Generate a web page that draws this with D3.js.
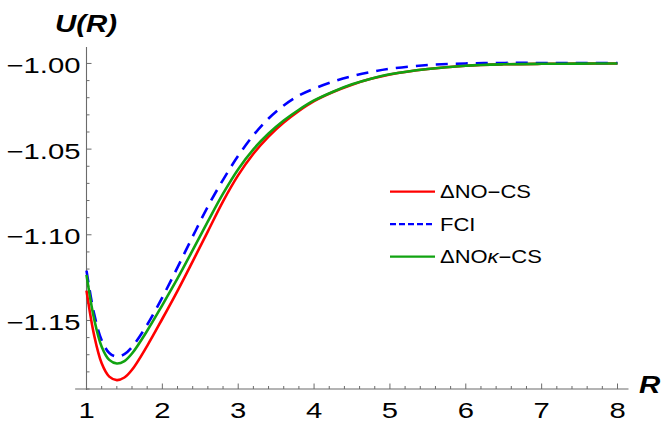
<!DOCTYPE html>
<html>
<head>
<meta charset="utf-8">
<script src="https://cdn.jsdelivr.net/npm/d3@7"></script>
<style>
  html, body { margin: 0; padding: 0; background: #fff; }
  svg { display: block; }
  text { font-family: "Liberation Sans", Arial, Helvetica, sans-serif; fill: #000; }
</style>
</head>
<body>
<svg id="chart" width="662" height="423"></svg>
<script>
// ---- data ----
const R = [1.0,1.1,1.2,1.3,1.4,1.5,1.6,1.8,2.0,2.2,2.4,2.6,2.8,3.0,3.2,3.4,3.6,3.8,4.0,4.25,4.5,4.75,5.0,5.5,6.0,6.5,7.0,7.5,8.0];
const noCS = [-1.1326,-1.1585,-1.1750,-1.1828,-1.1848,-1.1833,-1.1788,-1.1648,-1.1490,-1.1327,-1.1155,-1.0980,-1.0805,-1.0652,-1.0527,-1.0427,-1.0345,-1.0277,-1.0220,-1.0167,-1.0124,-1.0090,-1.0064,-1.0032,-1.0013,-1.0005,-1.0002,-1.0001,-1.0000];
const fci = [-1.1209,-1.1460,-1.1615,-1.1690,-1.1711,-1.1697,-1.1655,-1.1525,-1.1365,-1.1190,-1.1010,-1.0835,-1.0679,-1.0539,-1.0419,-1.0321,-1.0245,-1.0187,-1.0147,-1.0106,-1.0074,-1.0050,-1.0031,-1.0009,-1.0000,-0.9997,-0.9997,-0.9997,-0.9997];
const noKCS = [-1.1234,-1.1490,-1.1653,-1.1730,-1.1751,-1.1737,-1.1693,-1.1560,-1.1410,-1.1255,-1.1090,-1.0922,-1.0760,-1.0617,-1.0501,-1.0409,-1.0333,-1.0270,-1.0216,-1.0165,-1.0122,-1.0089,-1.0063,-1.0032,-1.0013,-1.0005,-1.0002,-1.0001,-1.0000];
const xTicks = [1,2,3,4,5,6,7,8];
const yTicks = [-1.15,-1.10,-1.05,-1.00];
const seriesNames = ["\u0394NO\u2212CS", "FCI", "\u0394NO\u03BA\u2212CS"];

// ---- layout ----
const svg = d3.select("#chart");
const x = d3.scaleLinear().domain([1, 8]).range([86.5, 617.5]);
const y = d3.scaleLinear().domain([-1.19, -0.9904]).range([389, 47]);
const axisColor = "#6b6b6b";
const sx = 1.33; // horizontal stretch of glyphs seen in the reference

// axes lines
svg.append("line").attr("x1", x(0.85)).attr("x2", x(8.145)).attr("y1", y(-1.19)).attr("y2", y(-1.19))
  .attr("stroke", axisColor).attr("stroke-width", 1.1);
svg.append("line").attr("x1", x(1)).attr("x2", x(1)).attr("y1", y(-1.19) + 1).attr("y2", y(-0.9904))
  .attr("stroke", axisColor).attr("stroke-width", 1.1);

// x ticks
const xMinor = d3.range(1, 8.001, 0.2).filter(v => Math.abs(v - Math.round(v)) > 1e-6);
const gx = svg.append("g").attr("transform", `translate(0,${y(-1.19)})`);
gx.selectAll("line.minor").data(xMinor).join("line")
  .attr("x1", d => x(d)).attr("x2", d => x(d)).attr("y1", 0).attr("y2", -3)
  .attr("stroke", axisColor).attr("stroke-width", 1);
gx.selectAll("line.major").data(xTicks).join("line")
  .attr("x1", d => x(d)).attr("x2", d => x(d)).attr("y1", 0).attr("y2", -5.5)
  .attr("stroke", axisColor).attr("stroke-width", 1);
gx.selectAll("text").data(xTicks).join("text")
  .attr("transform", d => `translate(${x(d)},29) scale(${sx},1)`)
  .attr("text-anchor", "middle").attr("font-size", 22)
  .text(d => d3.format("d")(d));

// y ticks
const yMinor = d3.range(-1.19, -0.995, 0.01).filter(v => Math.abs(v * 20 - Math.round(v * 20)) > 1e-6);
const gy = svg.append("g").attr("transform", `translate(${x(1)},0)`);
gy.selectAll("line.minor").data(yMinor).join("line")
  .attr("x1", 0).attr("x2", 3).attr("y1", d => y(d)).attr("y2", d => y(d))
  .attr("stroke", axisColor).attr("stroke-width", 1);
gy.selectAll("line.major").data(yTicks).join("line")
  .attr("x1", 0).attr("x2", 5).attr("y1", d => y(d)).attr("y2", d => y(d))
  .attr("stroke", axisColor).attr("stroke-width", 1);
gy.selectAll("text").data(yTicks).join("text")
  .attr("transform", d => `translate(-6,${y(d) + 9.5}) scale(${sx},1)`)
  .attr("text-anchor", "end").attr("font-size", 22)
  .text(d => d3.format(".2f")(d));

// axis titles
svg.append("text").attr("transform", `translate(55,32) scale(1.28,1)`)
  .attr("font-size", 23).attr("font-weight", "bold").attr("font-style", "italic").text("U(R)");
svg.append("text").attr("transform", `translate(639,393) scale(1.28,1)`)
  .attr("font-size", 23).attr("font-weight", "bold").attr("font-style", "italic").text("R");

// curves
const line = d3.line().x(d => x(d[0])).y(d => y(d[1])).curve(d3.curveCatmullRom.alpha(0.5));
const series = [
  { name: seriesNames[0], vals: noCS, color: "#ff0000", dash: null, ldash: null },
  { name: seriesNames[1], vals: fci, color: "#0000ff", dash: "12,8", ldash: "6,3" },
  { name: seriesNames[2], vals: noKCS, color: "#11a311", dash: null, ldash: null }
];
series.forEach(s => {
  svg.append("path").datum(R.map((r, k) => [r, s.vals[k]]))
    .attr("d", line).attr("fill", "none").attr("stroke", s.color)
    .attr("stroke-width", 2.6).attr("stroke-dasharray", s.dash);
});

// legend
const lg = svg.append("g");
series.forEach((s, i) => {
  const ly = 191.7 + i * 32.5;
  lg.append("line").attr("x1", 390).attr("x2", 435).attr("y1", ly).attr("y2", ly)
    .attr("stroke", s.color).attr("stroke-width", 2.2).attr("stroke-dasharray", s.ldash);
  const t = lg.append("text").attr("transform", `translate(440,${ly + 6.5}) scale(1.22,1)`)
    .attr("font-size", 18);
  if (i === 2) {
    t.append("tspan").text("\u0394NO");
    t.append("tspan").attr("font-style", "italic").text("\u03BA");
    t.append("tspan").text("\u2212CS");
  } else {
    t.text(s.name);
  }
});
</script>
</body>
</html>
